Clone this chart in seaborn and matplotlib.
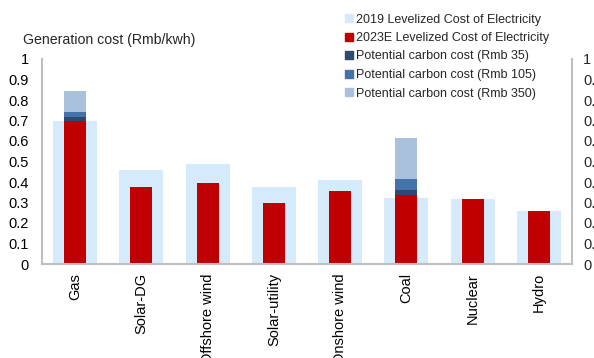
import numpy as np
import pandas as pd
import matplotlib
matplotlib.use("Agg")
import matplotlib.pyplot as plt
from matplotlib.patches import Patch
import seaborn as sns

# data
categories = ["Gas", "Solar-DG", "Offshore wind", "Solar-utility",
              "Onshore wind", "Coal", "Nuclear", "Hydro"]
lcoe_2019 = [0.70, 0.46, 0.488, 0.375, 0.41, 0.322, 0.317, 0.26]
lcoe_2023e = [0.70, 0.375, 0.394, 0.298, 0.357, 0.335, 0.315, 0.258]
carbon_35 = [0.015, 0, 0, 0, 0, 0.026, 0, 0]
carbon_105 = [0.041, 0, 0, 0, 0, 0.081, 0, 0]
carbon_350 = [0.142, 0, 0, 0, 0, 0.28, 0, 0]
yticks = [0, 0.1, 0.2, 0.3, 0.4, 0.5, 0.6, 0.7, 0.8, 0.9, 1]
ytick_labels = ["0", "0.1", "0.2", "0.3", "0.4", "0.5", "0.6", "0.7", "0.8", "0.9", "1"]

c2019 = "#D5EAFB"
c2023 = "#C00000"
c35 = "#2E4A6F"
c105 = "#4472AB"
c350 = "#A9C1DD"
spine_col = "#BFBFBF"

sns.set_theme(style="white")
plt.rcParams["font.family"] = ["Liberation Sans", "DejaVu Sans"]
fs = 10.5

df = pd.DataFrame({
    "cat": categories,
    "y2019": lcoe_2019,
    "y2023": lcoe_2023e,
    "t35": np.array(lcoe_2023e) + np.array(carbon_35),
    "t105": np.array(lcoe_2023e) + np.array(carbon_105),
    "t350": np.array(lcoe_2023e) + np.array(carbon_350),
})

fig = plt.figure(figsize=(5.94, 3.58), dpi=100)
ax = fig.add_axes([42 / 594, 1 - 264 / 358, 530 / 594, 205 / 358])

# carbon cost bars overlap each other, all starting from the 2023E bar top
bar_kw = dict(saturation=1, linewidth=0, edgecolor="none", ax=ax)
sns.barplot(data=df, x="cat", y="y2019", color=c2019, width=0.664, **bar_kw)
sns.barplot(data=df, x="cat", y="t350", color=c350, width=0.33, **bar_kw)
sns.barplot(data=df, x="cat", y="t105", color=c105, width=0.33, **bar_kw)
sns.barplot(data=df, x="cat", y="t35", color=c35, width=0.33, **bar_kw)
sns.barplot(data=df, x="cat", y="y2023", color=c2023, width=0.33, **bar_kw)

ax.set_xlim(-0.5, len(categories) - 0.5)
ax.set_ylim(0, 1)
ax.set_yticks(yticks)
ax.set_yticklabels(ytick_labels, fontsize=fs)
ax.set_xticks(range(len(categories)))
ax.set_xticklabels(categories, rotation=90, fontsize=fs, va="top")
ax.set_xlabel("")
ax.set_ylabel("")
ax.tick_params(axis="both", length=0, colors="black")
ax.tick_params(axis="y", pad=9.5)
ax.tick_params(axis="x", pad=6.5)
for s in ["top", "right"]:
    ax.spines[s].set_visible(False)
for s in ["left", "bottom"]:
    ax.spines[s].set_color(spine_col)
    ax.spines[s].set_linewidth(1.5)

# right-hand duplicate axis (labels run off the edge like the original)
ax2 = ax.twinx()
ax2.set_ylim(0, 1)
ax2.set_yticks(yticks)
ax2.set_yticklabels(ytick_labels, fontsize=fs)
ax2.tick_params(axis="y", length=0, pad=8)
for s in ["top", "left", "bottom"]:
    ax2.spines[s].set_visible(False)
ax2.spines["right"].set_color(spine_col)
ax2.spines["right"].set_linewidth(1.5)

fig.text(23 / 594, 1 - 40 / 358, "Generation cost (Rmb/kwh)", fontsize=10.2, va="center")

handles = [
    Patch(color=c2019, label="2019 Levelized Cost of Electricity"),
    Patch(color=c2023, label="2023E Levelized Cost of Electricity"),
    Patch(color=c35, label="Potential carbon cost (Rmb 35)"),
    Patch(color=c105, label="Potential carbon cost (Rmb 105)"),
    Patch(color=c350, label="Potential carbon cost (Rmb 350)"),
]
fig.legend(handles=handles, loc="upper left", bbox_to_anchor=(345 / 594, 1 - 13.5 / 358),
           frameon=False, fontsize=9, handlelength=0.6, handleheight=0.6,
           handletextpad=0.3, labelspacing=0.52, borderpad=0, borderaxespad=0)

fig.savefig("out.png", dpi=100)
